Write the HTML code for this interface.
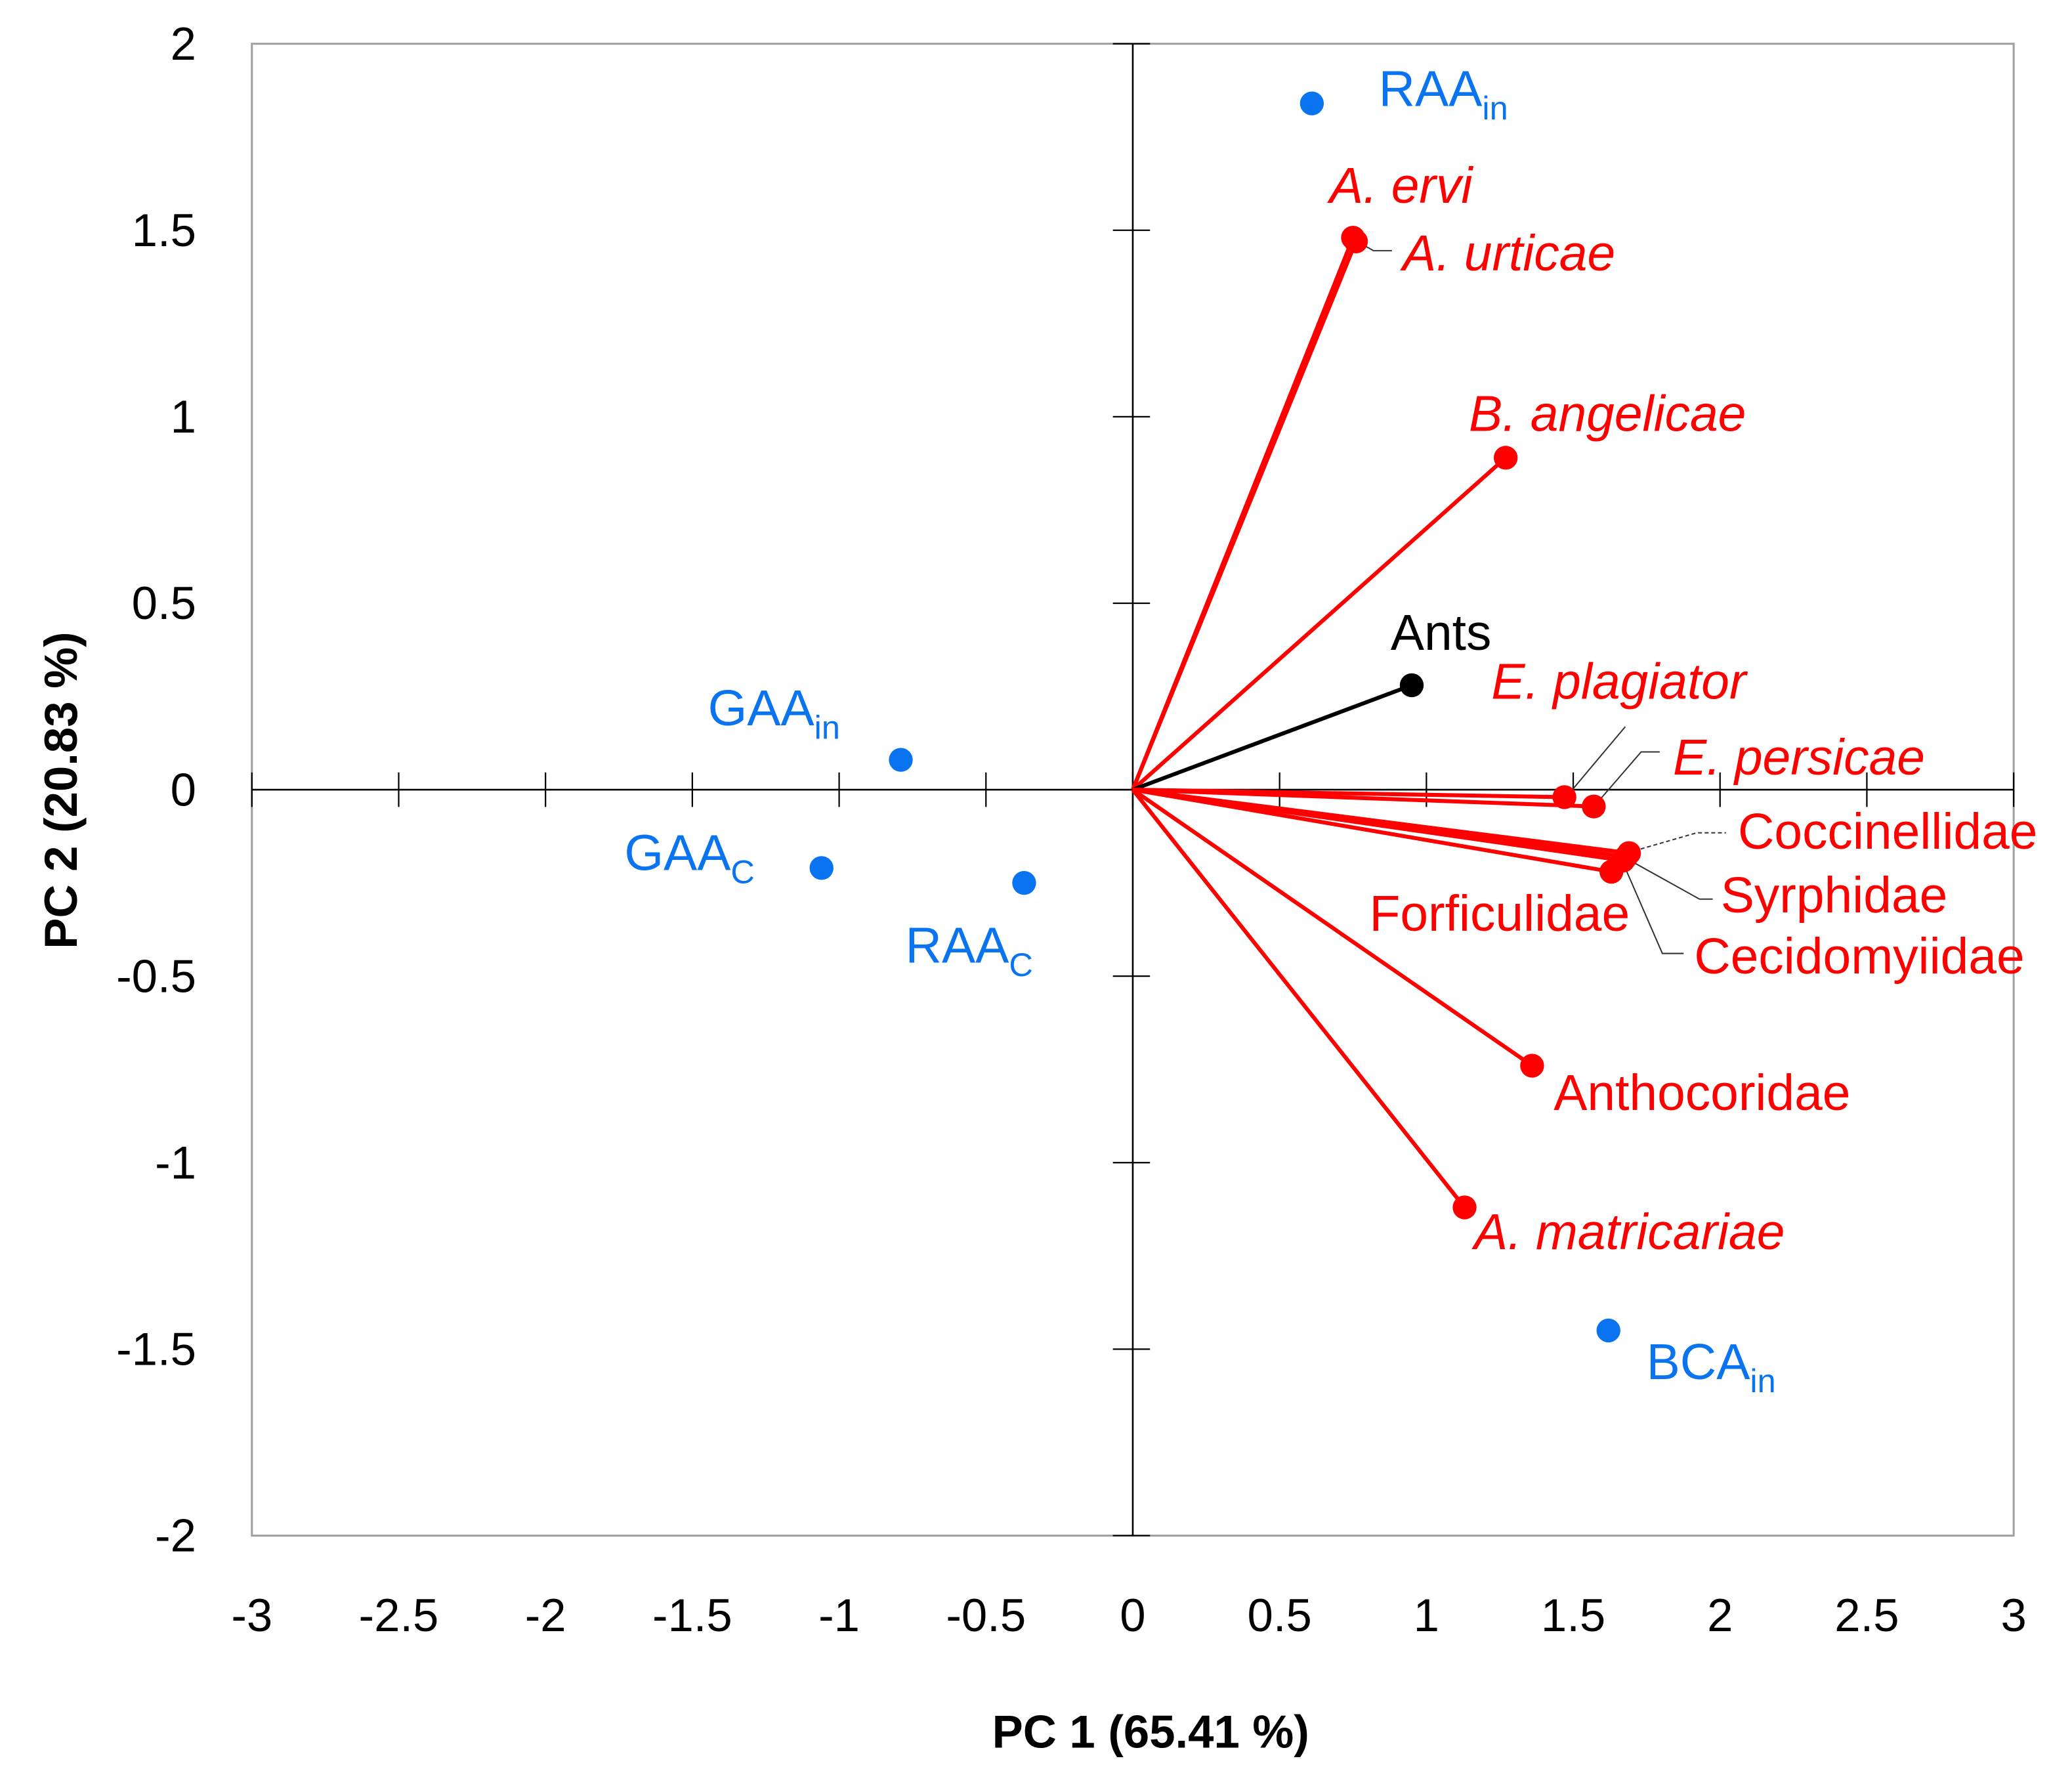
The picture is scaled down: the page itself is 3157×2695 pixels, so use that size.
<!DOCTYPE html>
<html><head><meta charset="utf-8"><style>
html,body{margin:0;padding:0;background:#fff}
svg{display:block}
text{font-family:"Liberation Sans",Arial,sans-serif}
</style></head><body>
<svg id="chart" width="3157" height="2695" viewBox="0 0 1563 1334" preserveAspectRatio="none" xmlns="http://www.w3.org/2000/svg">
<rect x="190" y="33" width="1329" height="1125" fill="#fff" stroke="#a0a0a0" stroke-width="1.5"/>
<g id="axes"></g>
<g id="vectors"></g>
<g id="leaders" stroke="#333" stroke-width="1" fill="none">
<polyline points="1022,181 1036,189 1050,189"/>
<polyline points="1184,598 1226,548"/>
<polyline points="1206,604 1238,567 1252,567"/>
<polyline points="1228,643 1280,628 1302,628" stroke-dasharray="3,2"/>
<polyline points="1228,648 1282,678 1292,678"/>
<polyline points="1224,650 1254,719 1270,719"/>
</g>
<g id="points"></g>
<g font-size="38">
<text x="1040" y="80" fill="#0a74f0">RAA<tspan font-size="25" dy="10">in</tspan></text>
<text x="1003" y="153" fill="#f00" font-style="italic">A. ervi</text>
<text x="1058" y="204" fill="#f00" font-style="italic">A. urticae</text>
<text x="1108" y="325" fill="#f00" font-style="italic">B. angelicae</text>
<text x="1049" y="490" fill="#000">Ants</text>
<text x="1125" y="527" fill="#f00" font-style="italic">E. plagiator</text>
<text x="1262" y="584" fill="#f00" font-style="italic">E. persicae</text>
<text x="1311" y="640" fill="#f00">Coccinellidae</text>
<text x="1298" y="688" fill="#f00">Syrphidae</text>
<text x="1278" y="734" fill="#f00">Cecidomyiidae</text>
<text x="1033" y="702" fill="#f00">Forficulidae</text>
<text x="1172" y="837" fill="#f00">Anthocoridae</text>
<text x="1112" y="942" fill="#f00" font-style="italic">A. matricariae</text>
<text x="1242" y="1040" fill="#0a74f0">BCA<tspan font-size="25" dy="10">in</tspan></text>
<text x="534" y="547" fill="#0a74f0">GAA<tspan font-size="25" dy="10">in</tspan></text>
<text x="471" y="656" fill="#0a74f0">GAA<tspan font-size="25" dy="10">C</tspan></text>
<text x="683" y="726" fill="#0a74f0">RAA<tspan font-size="25" dy="10">C</tspan></text>
</g>
<text x="868" y="1318" font-size="35" font-weight="bold" text-anchor="middle">PC 1 (65.41 %)</text>
<text transform="translate(58,596) rotate(-90)" font-size="35" font-weight="bold" text-anchor="middle">PC 2 (20.83 %)</text>
</svg>
<script>
const xTicks = [-3,-2.5,-2,-1.5,-1,-0.5,0,0.5,1,1.5,2,2.5,3];
const yTicks = [2,1.5,1,0.5,0,-0.5,-1,-1.5,-2];
const vecNames = ["A. ervi","A. urticae","B. angelicae","Ants","E. plagiator","E. persicae","Coccinellidae","Syrphidae","Cecidomyiidae","Forficulidae","Anthocoridae","A. matricariae"];
const vecX = [0.75,0.76,1.27,0.95,1.47,1.57,1.69,1.68,1.67,1.63,1.36,1.13];
const vecY = [1.48,1.47,0.89,0.28,-0.02,-0.045,-0.17,-0.18,-0.19,-0.22,-0.74,-1.12];
const vecColor = ["#f00","#f00","#f00","#000","#f00","#f00","#f00","#f00","#f00","#f00","#f00","#f00"];
const siteNames = ["RAAin","GAAin","GAAc","RAAc","BCAin"];
const siteX = [0.61,-0.79,-1.06,-0.37,1.62];
const siteY = [1.84,0.08,-0.21,-0.25,-1.45];

const NS="http://www.w3.org/2000/svg";
const X0=190,X1=1519,Y0=33,Y1=1158;
const sx=v=>X0+(v+3)/6*(X1-X0);
const sy=v=>Y1-(v+2)/4*(Y1-Y0);
function mk(tag,attrs,parent){const e=document.createElementNS(NS,tag);for(const k in attrs)e.setAttribute(k,attrs[k]);parent.appendChild(e);return e;}
const axes=document.getElementById('axes');
let l=mk('line',{x1:sx(-3),y1:sy(0),x2:sx(3),y2:sy(0),stroke:'#000','stroke-width':1.3},axes);


l=mk('line',{x1:sx(0),y1:sy(2),x2:sx(0),y2:sy(-2),stroke:'#000','stroke-width':1.3},axes);


xTicks.forEach(v=>{
  const t=mk('line',{x1:sx(v),y1:sy(0)-13,x2:sx(v),y2:sy(0)+13,stroke:'#000','stroke-width':1.1},axes);
  
  
  const tx=mk('text',{x:sx(v),y:1230,'font-size':35,'text-anchor':'middle'},axes);
  tx.textContent=String(v);
  
  
});
yTicks.forEach(v=>{
  const t=mk('line',{x1:sx(0)-15,y1:sy(v),x2:sx(0)+13,y2:sy(v),stroke:'#000','stroke-width':1.1},axes);
  
  
  const tx=mk('text',{x:148,y:sy(v)+12,'font-size':35,'text-anchor':'end'},axes);
  tx.textContent=String(v);
  
  
});
const vg=document.getElementById('vectors');
const pg=document.getElementById('points');
vecNames.forEach((n,i)=>{
  const ln=mk('line',{x1:sx(0),y1:sy(0),x2:sx(vecX[i]),y2:sy(vecY[i]),stroke:vecColor[i],'stroke-width':3},vg);
  
  
  const c=mk('circle',{cx:sx(vecX[i]),cy:sy(vecY[i]),r:9,fill:vecColor[i]},pg);
  
  
});
siteNames.forEach((n,i)=>{
  const c=mk('circle',{cx:sx(siteX[i]),cy:sy(siteY[i]),r:9,fill:'#0a74f0'},pg);
  
  
});
</script>
</body></html>
